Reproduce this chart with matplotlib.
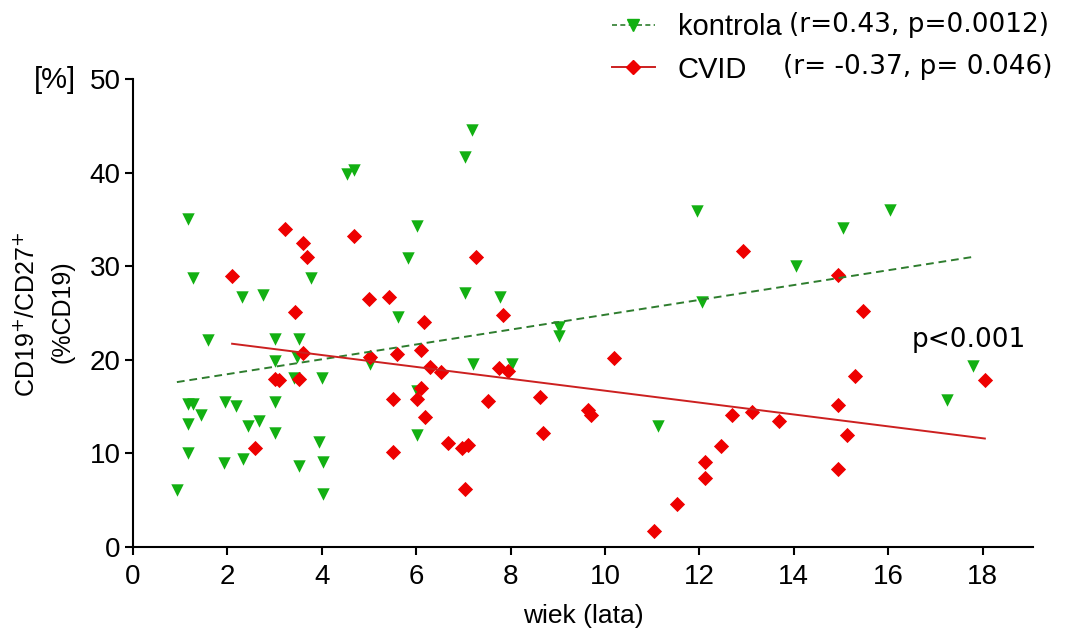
import numpy as np
import matplotlib.pyplot as plt
from matplotlib.lines import Line2D

# age (years) and CD19+/CD27+ share (% of CD19) for the two groups
kontrola_x = [0.93, 1.17, 1.27, 1.17, 1.27, 1.44, 1.17, 1.17, 1.59, 1.95, 2.18, 1.93,
              2.33, 2.44, 2.67, 2.31, 2.75, 3.01, 3.01, 3.01, 3.01, 3.52, 3.47, 3.41,
              3.52, 3.77, 3.94, 4.00, 4.03, 4.03, 4.53, 4.68, 5.02, 5.61, 5.83, 6.02,
              6.02, 6.02, 7.03, 7.18, 7.03, 7.20, 7.78, 8.03, 9.03, 9.03, 11.12, 11.95,
              12.05, 14.05, 15.04, 16.04, 17.24, 17.80]
kontrola_y = [6.1, 35.0, 28.7, 15.3, 15.3, 14.1, 13.1, 10.0, 22.1, 15.5, 15.1, 9.0,
              9.4, 12.9, 13.5, 26.7, 26.9, 22.2, 19.9, 15.5, 12.2, 22.2, 20.3, 18.1,
              8.7, 28.7, 11.2, 18.1, 9.1, 5.7, 39.8, 40.3, 19.5, 24.6, 30.9, 34.3,
              16.7, 12.0, 41.7, 44.6, 27.1, 19.6, 26.7, 19.6, 23.5, 22.5, 12.9, 35.9,
              26.2, 30.0, 34.1, 36.0, 15.7, 19.3]

cvid_x = [2.10, 2.58, 3.01, 3.09, 3.22, 3.43, 3.52, 3.60, 3.60, 3.69, 4.68, 5.00,
          5.02, 5.42, 5.51, 5.51, 5.59, 6.02, 6.10, 6.10, 6.17, 6.19, 6.29, 6.52,
          6.67, 6.97, 7.10, 7.03, 7.27, 7.52, 7.75, 7.84, 7.94, 8.62, 8.69, 9.64,
          9.70, 10.19, 11.04, 11.53, 12.12, 12.12, 12.46, 12.69, 12.92, 13.11, 13.69,
          14.94, 14.94, 14.94, 15.13, 15.30, 15.47, 18.05]
cvid_y = [29.0, 10.6, 17.9, 17.8, 34.0, 25.1, 17.9, 32.5, 20.7, 31.0, 33.2, 26.5,
          20.3, 26.7, 15.8, 10.1, 20.6, 15.8, 21.1, 17.0, 24.0, 13.9, 19.2, 18.7,
          11.1, 10.6, 10.9, 6.2, 31.0, 15.6, 19.1, 24.8, 18.8, 16.0, 12.2, 14.6,
          14.1, 20.2, 1.7, 4.6, 9.1, 7.4, 10.8, 14.1, 31.6, 14.4, 13.5,
          29.1, 15.2, 8.3, 12.0, 18.3, 25.2, 17.8]

# linear fits (slope, intercept)
kontrola_fit = (0.793, 16.88)
cvid_fit = (-0.635, 23.05)

kontrola_label = 'kontrola'
cvid_label = 'CVID'
kontrola_stats = '(r=0.43, p=0.0012)'
cvid_stats = '(r= -0.37, p= 0.046)'

green = '#12b012'
green_line = '#2e7d2e'
red = '#ee0000'
red_line = '#cc2020'
sans = 'Liberation Sans'

fig = plt.figure(figsize=(10.7, 6.31), dpi=100)
ax = fig.add_axes([133/1070, 1-547/631, 900/1070, 468/631])

ax.scatter(kontrola_x, kontrola_y, marker='v', s=80, color=green, linewidths=0, zorder=3)
ax.scatter(cvid_x, cvid_y, marker='D', s=60, color=red, linewidths=0, zorder=3)

xs = np.array([min(kontrola_x), max(kontrola_x)])
ax.plot(xs, kontrola_fit[0]*xs + kontrola_fit[1], color=green_line, lw=1.4,
        dashes=(4, 2.5), zorder=4)
xs = np.array([min(cvid_x), max(cvid_x)])
ax.plot(xs, cvid_fit[0]*xs + cvid_fit[1], color=red_line, lw=1.4, zorder=4)

ax.set_xlim(0, 19.07)
ax.set_ylim(0, 50)
ax.set_xticks(np.arange(0, 19, 2))
ax.set_yticks(np.arange(0, 51, 10))
for s in ['top', 'right']:
    ax.spines[s].set_visible(False)
for s in ['left', 'bottom']:
    ax.spines[s].set_linewidth(1.5)
ax.tick_params(direction='out', length=6, width=1.5, labelsize=20, pad=3)
ax.tick_params(axis='x', pad=6)
for lab in ax.get_xticklabels() + ax.get_yticklabels():
    lab.set_fontfamily(sans)

ax.set_xlabel('wiek (lata)', fontsize=19, family=sans, labelpad=10)
fig.text(27/1070, 1-314/631, 'CD19$^{+}$/CD27$^{+}$', rotation=90, ha='center', va='center',
         fontsize=18, family=sans)
fig.text(62/1070, 1-312/631, '(%CD19)', rotation=90, ha='center', va='center',
         fontsize=18, family=sans)
fig.text(55/1070, 1-80/631, '[%]', ha='center', va='center', fontsize=21, family=sans)

ax.text(17.7, 22.1, 'p<0.001', ha='center', va='center', fontsize=19, family='DejaVu Sans')

handles = [Line2D([], [], color=green_line, lw=1.2, dashes=(3, 2), marker='v',
                  markerfacecolor=green, markeredgecolor=green, markersize=9),
           Line2D([], [], color=red_line, lw=1.4, marker='D',
                  markerfacecolor=red, markeredgecolor=red, markersize=7.5)]
fig.legend(handles, [kontrola_label, cvid_label], loc='upper left',
           bbox_to_anchor=(612/1070, 1-13/631), frameon=False, borderpad=0,
           borderaxespad=0, handlelength=1.47, handletextpad=0.79, labelspacing=0.5,
           prop={'family': sans, 'size': 21})
fig.text(789/1070, 1-25/631, kontrola_stats, ha='left', va='center', fontsize=19,
         family='DejaVu Sans')
fig.text(783/1070, 1-67/631, cvid_stats, ha='left', va='center', fontsize=19,
         family='DejaVu Sans')

fig.savefig('out.png', dpi=100)
